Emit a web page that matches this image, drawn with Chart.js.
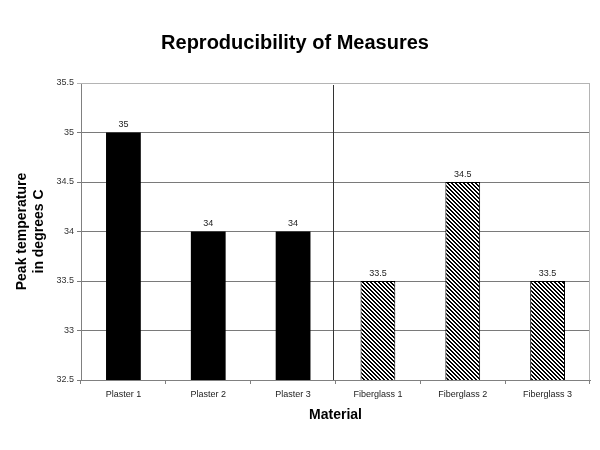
<!DOCTYPE html>
<html>
<head>
<meta charset="utf-8">
<script src="https://cdn.jsdelivr.net/npm/chart.js@4"></script>
<style>
  html, body { margin: 0; padding: 0; background: #fff; }
  #wrap { width: 600px; height: 450px; }
</style>
</head>
<body>
<div id="wrap"><canvas id="chart" width="600" height="450"></canvas></div>
<script>
const materials = ["Plaster 1", "Plaster 2", "Plaster 3", "Fiberglass 1", "Fiberglass 2", "Fiberglass 3"];
const peakTemps = [35, 34, 34, 33.5, 34.5, 33.5];
const isFiberglass = [false, false, false, true, true, true];
const yTicks = [32.5, 33, 33.5, 34, 34.5, 35, 35.5];

// diagonal hatch for the fiberglass bars
function makeHatch() {
    const c = document.createElement("canvas");
    c.width = 4;
    c.height = 4;
    const cx = c.getContext("2d");
    const img = cx.createImageData(4, 4);
    for (let y = 0; y < 4; y++) {
        for (let x = 0; x < 4; x++) {
            const i = (y * 4 + x) * 4;
            const on = ((x - y + 8) % 4) < 2;
            const v = on ? 0 : 255;
            img.data[i] = v; img.data[i + 1] = v; img.data[i + 2] = v; img.data[i + 3] = 255;
        }
    }
    cx.putImageData(img, 0, 0);
    return cx.createPattern(c, "repeat");
}

const ctx = document.getElementById("chart").getContext("2d");
const hatch = makeHatch();

// value labels above the bars
const valueLabels = {
    id: "valueLabels",
    afterDatasetsDraw(chart) {
        const c = chart.ctx;
        const meta = chart.getDatasetMeta(0);
        c.save();
        c.font = "9px 'Liberation Sans', Arial, sans-serif";
        c.fillStyle = "#222";
        c.textAlign = "center";
        c.textBaseline = "bottom";
        meta.data.forEach((bar, i) => {
            c.fillText(String(peakTemps[i]), bar.x, bar.y - 3);
        });
        c.restore();
    }
};

// frame and the divider between plaster and fiberglass
const frame = {
    id: "frame",
    beforeDatasetsDraw(chart) {
        const c = chart.ctx;
        const a = chart.chartArea;
        const x = chart.scales.x;
        c.save();
        c.strokeStyle = "#b4b4b4";
        c.lineWidth = 1;
        c.beginPath();
        c.moveTo(a.left, a.top + 0.5);
        c.lineTo(a.right - 0.5, a.top + 0.5);
        c.lineTo(a.right - 0.5, a.bottom);
        c.stroke();
        const mid = Math.round((x.getPixelForValue(2) + x.getPixelForValue(3)) / 2) - 2.5;
        c.strokeStyle = "#333";
        c.beginPath();
        c.moveTo(mid, a.top + 2);
        c.lineTo(mid, a.bottom);
        c.stroke();
        c.restore();
    }
};

new Chart(ctx, {
    type: "bar",
    data: {
        labels: materials,
        datasets: [{
            data: peakTemps,
            backgroundColor: isFiberglass.map(f => f ? hatch : "#000"),
            borderColor: "#000",
            borderWidth: isFiberglass.map(f => f ? 1 : 0),
            borderSkipped: "bottom",
            categoryPercentage: 1,
            barPercentage: 0.41
        }]
    },
    options: {
        responsive: false,
        animation: false,
        layout: { padding: { left: 0, right: 10, top: 0, bottom: 0 } },
        plugins: {
            legend: { display: false },
            tooltip: { enabled: false },
            title: {
                display: true,
                text: "Reproducibility of Measures",
                color: "#000",
                font: { family: "'Liberation Sans', Arial, sans-serif", size: 20, weight: "bold" },
                padding: { top: 31, bottom: 28 }
            }
        },
        scales: {
            x: {
                grid: { display: true, drawOnChartArea: false, tickLength: 4, color: "#808080", offset: true },
                border: { display: true, color: "#808080" },
                ticks: {
                    color: "#222",
                    padding: 5,
                    maxRotation: 0,
                    font: { family: "'Liberation Sans', Arial, sans-serif", size: 9 }
                },
                title: {
                    display: true,
                    text: "Material",
                    color: "#000",
                    font: { family: "'Liberation Sans', Arial, sans-serif", size: 14, weight: "bold" },
                    padding: { top: 6, bottom: 26 }
                },
                afterFit(scale) { scale.height = 70; }
            },
            y: {
                min: yTicks[0],
                max: yTicks[yTicks.length - 1],
                afterBuildTicks(scale) { scale.ticks = yTicks.map(v => ({ value: v })); },
                grid: {
                    tickLength: 4,
                    color: ctx2 => ctx2.index === yTicks.length - 1 ? "#b4b4b4" : "#7a7a7a"
                },
                border: { display: true, color: "#808080" },
                ticks: {
                    color: "#333",
                    padding: 3,
                    callback: v => String(v),
                    font: { family: "'Liberation Sans', Arial, sans-serif", size: 9 }
                },
                title: {
                    display: true,
                    text: ["Peak temperature", "in degrees C"],
                    color: "#000",
                    font: { family: "'Liberation Sans', Arial, sans-serif", size: 14, weight: "bold", lineHeight: 1.25 },
                    padding: { top: 13, bottom: 4 }
                },
                afterFit(scale) { scale.width = 81; }
            }
        }
    },
    plugins: [frame, valueLabels]
});
</script>
</body>
</html>
